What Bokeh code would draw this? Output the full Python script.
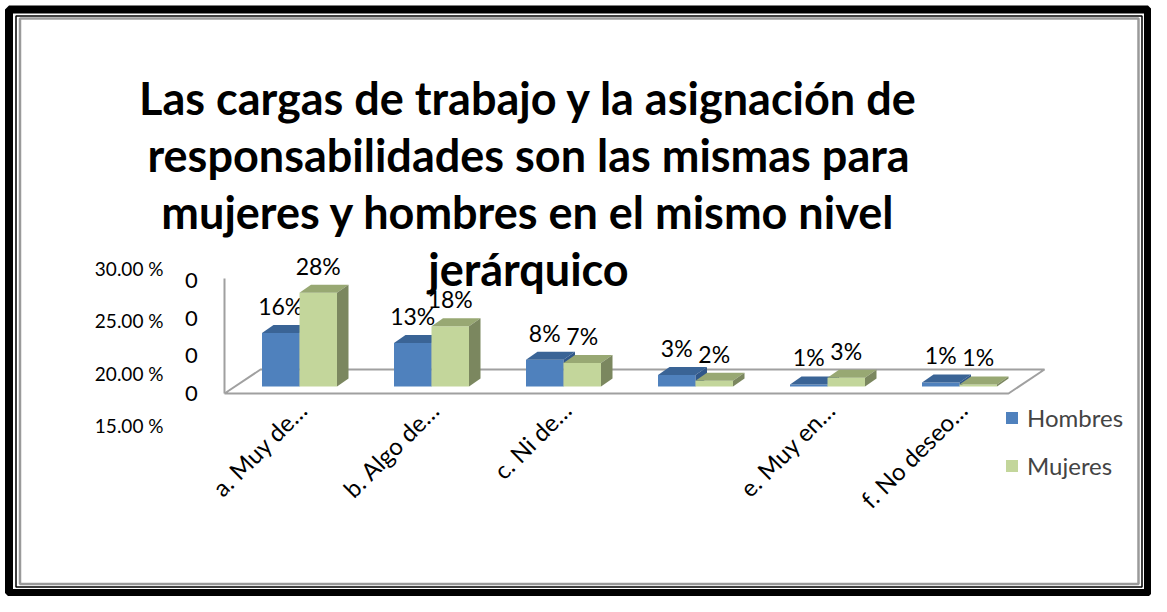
import math
from bokeh.plotting import figure
from bokeh.models import Range1d, Legend, LegendItem
from bokeh.core.properties import value
from bokeh.embed import file_html
from bokeh.resources import INLINE

# ---------------- data ----------------
title_lines = [
    "Las cargas de trabajo y la asignación de",
    "responsabilidades son las mismas para",
    "mujeres y hombres en el mismo nivel",
    "jerárquico",
]
categories = ["a. Muy de…", "b. Algo de…", "c. Ni de…", "", "e. Muy en…", "f. No deseo…"]
series_names = ["Hombres", "Mujeres"]
hombres = [16, 13, 8, 3.4, 0.6, 1.2]
mujeres = [28, 18, 7, 1.7, 2.6, 0.6]
pct_ticks = [0.15, 0.20, 0.25, 0.30]
pct_tick_labels = ["15.00 %", "20.00 %", "25.00 %", "30.00 %"]
zero_ticks = [0, 1, 2, 3]
zero_tick_labels = ["0", "0", "0", "0"]

# ---------------- geometry / style ----------------
W, H = 1151, 596
GX = 132.0      # px per category
GY = 3.35       # px per percent
OX, OY = 299.0, 386.0   # canvas position of (x=0, 0 %)
BAR_W = 37.5 / GX
DX = 11.5 / GX
DY = 8.0 / GY
FONT = value("Lato")

BLUE = ("#4F81BD", "#3A6496", "#30578A")
GREEN = ("#C3D69B", "#98A873", "#7B875F")

p = figure(width=W, height=H, output_backend="svg", toolbar_location=None,
           x_axis_location=None, y_axis_location=None, min_border=0,
           x_range=Range1d(-OX / GX, (W - OX) / GX),
           y_range=Range1d(-(H - OY) / GY, OY / GY))
p.outline_line_color = None
p.background_fill_color = "white"
p.border_fill_color = "white"
p.grid.grid_line_color = None
p.grid.visible = False

p.extra_x_ranges = {"px": Range1d(0, W)}
p.extra_y_ranges = {
    "px": Range1d(H, 0),
    "pct": Range1d(0.15 - (H - 425) / 1047.0, 0.15 + 425 / 1047.0),
    "zero": Range1d(-(H - 393) / 37.7, 393 / 37.7),
}

# ---------------- frame borders ----------------
p.quad(left=[8.5], right=[W - 3.5], top=[9], bottom=[H - 3.5], x_range_name="px", y_range_name="px",
       fill_alpha=0, line_color="black", line_width=8)
p.quad(left=[15.5], right=[W - 9.5], top=[15.5], bottom=[H - 9.5], x_range_name="px", y_range_name="px",
       fill_alpha=0, line_color="black", line_width=1.5)
p.quad(left=[19.5], right=[W - 13], top=[18], bottom=[H - 12.5], x_range_name="px", y_range_name="px",
       fill_alpha=0, line_color="#9A9A9A", line_width=2.5)

# ---------------- floor & wall ----------------
n = len(categories)
fy = -7 / GY
fl, fr = -75 / GX, (n - 1) + 49 / GX
bdx, bdy = 36 / GX, 24 / GY
p.line(x=[fl, fr, fr + bdx, fl + bdx, fl], y=[fy, fy, fy + bdy, fy + bdy, fy],
       line_color="#A0A0A0", line_width=2)
p.line(x=[fl, fl], y=[fy, 108 / GY], line_color="#A0A0A0", line_width=2)

# ---------------- 3D bars ----------------
renderers = []
for s, (vals, cols) in enumerate([(hombres, BLUE), (mujeres, GREEN)]):
    x0 = [i - BAR_W + s * BAR_W for i in range(n)]
    x1 = [a + BAR_W for a in x0]
    front = p.quad(left=x0, right=x1, bottom=[0] * n, top=vals,
                   fill_color=cols[0], line_color=None)
    renderers.append(front)
    tops_x = [[a, b, b + DX, a + DX] for a, b in zip(x0, x1)]
    tops_y = [[v, v, v + DY, v + DY] for v in vals]
    p.patches(xs=tops_x, ys=tops_y, fill_color=cols[1], line_color=None)
    side_x = [[b, b, b + DX, b + DX] for b in x1]
    side_y = [[0, v, v + DY, DY] for v in vals]
    p.patches(xs=side_x, ys=side_y, fill_color=cols[2], line_color=None)
    # data labels
    p.text(x=[(a + b) / 2 for a, b in zip(x0, x1)], y=[v + 27 / GY for v in vals],
           text=[f"{int(v + 0.5)}%" for v in vals], text_font=FONT, text_font_size="23px",
           text_align="center", text_baseline="middle", text_color="black")

# ---------------- category labels ----------------
p.text(x=[i + 3 / GX for i in range(n)], y=[-19 / GY] * n, text=categories,
       angle=math.pi / 4, text_font=FONT, text_font_size="24px",
       text_align="right", text_baseline="middle", text_color="black")

# ---------------- y tick labels ----------------
p.text(x=[163] * len(pct_ticks), y=pct_ticks, text=pct_tick_labels, x_range_name="px", y_range_name="pct",
       text_font=FONT, text_font_size="19px", text_align="right", text_baseline="middle", text_color="black")
p.text(x=[191] * len(zero_ticks), y=zero_ticks, text=zero_tick_labels, x_range_name="px", y_range_name="zero",
       text_font=FONT, text_font_size="22px", text_align="center", text_baseline="middle", text_color="black")

# ---------------- title ----------------
p.text(x=[528] * len(title_lines), y=[97 + 57 * k for k in range(len(title_lines))], text=title_lines,
       x_range_name="px", y_range_name="px", text_font=FONT, text_font_style="bold",
       text_font_size="45px", text_align="center", text_baseline="middle", text_color="black")

# ---------------- legend ----------------
legend = Legend(items=[LegendItem(label=series_names[0], renderers=[renderers[0]]),
                       LegendItem(label=series_names[1], renderers=[renderers[1]])],
                location=(1004, 116), orientation="vertical",
                glyph_width=15, glyph_height=15, label_standoff=8, spacing=19,
                padding=0, margin=0, border_line_color=None, background_fill_alpha=0,
                label_text_font="Lato", label_text_font_size="24px")
p.add_layout(legend)

open("out.html", "w").write(file_html(p, INLINE))
